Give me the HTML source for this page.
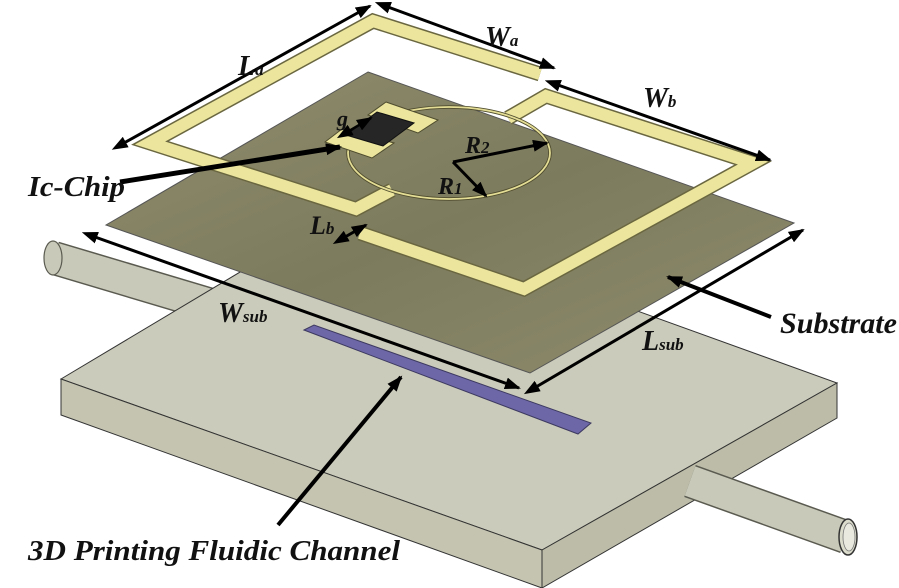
<!DOCTYPE html>
<html><head><meta charset="utf-8"><style>
html,body{margin:0;padding:0;background:#fff;}
svg{display:block;}
text{font-family:"Liberation Serif",serif;font-style:italic;font-weight:bold;fill:#111;}
</style></head><body>
<svg width="899" height="588" viewBox="0 0 899 588" xmlns="http://www.w3.org/2000/svg">
<defs>
<marker id="ah" markerWidth="16" markerHeight="12" refX="14" refY="6" orient="auto" markerUnits="userSpaceOnUse">
<path d="M0,0 L16,6 L0,12 z" fill="#000"/></marker>
<marker id="as" markerWidth="16" markerHeight="12" refX="2" refY="6" orient="auto-start-reverse" markerUnits="userSpaceOnUse">
<path d="M0,0 L16,6 L0,12 z" fill="#000"/></marker>
<linearGradient id="sub" x1="0" y1="0" x2="1" y2="1">
<stop offset="0" stop-color="#8f8d6c"/><stop offset="0.5" stop-color="#7d7b5e"/><stop offset="1" stop-color="#8e8c6c"/></linearGradient>
</defs>

<!-- left tube -->
<line x1="54" y1="258" x2="215" y2="306" stroke="#5a5a50" stroke-width="34"/>
<line x1="54" y1="258" x2="215" y2="306" stroke="#c8c9b8" stroke-width="31"/>
<ellipse cx="53" cy="258" rx="9" ry="17" fill="#c8c9b8" stroke="#5a5a50" stroke-width="1.2"/>

<!-- block -->
<polygon points="61,379 349,207 837,383 542,550" fill="#cbcbbb" stroke="#333" stroke-width="1"/>
<polygon points="61,379 542,550 542,588 61,415" fill="#c4c4b1" stroke="#333" stroke-width="1"/>
<polygon points="542,550 837,383 837,418 542,588" fill="#bcbca9" stroke="#333" stroke-width="1"/>

<!-- right tube -->
<line x1="690" y1="481" x2="846" y2="537" stroke="#5a5a50" stroke-width="34"/>
<line x1="690" y1="481" x2="846" y2="537" stroke="#c8c9b8" stroke-width="31"/>
<ellipse cx="848" cy="537" rx="9" ry="18" fill="#dcdccd" stroke="#333" stroke-width="1.5"/>
<ellipse cx="849" cy="537" rx="6" ry="14" fill="#e9e9e0" stroke="#777" stroke-width="0.8"/>

<!-- channel -->
<polygon points="304,330 314,325 591,423 578,434" fill="#6d67a8" stroke="#3d3a60" stroke-width="1"/>

<!-- substrate -->
<polygon points="368,72 794,223 530,373 106,225" fill="url(#sub)" stroke="#555" stroke-width="1"/>

<!-- traces -->
<g fill="none" stroke-linejoin="miter" stroke-linecap="butt">
<polyline points="540,74 373,21 150,143 356,209 392,190" stroke="#6a6740" stroke-width="15"/>
<polyline points="540,74 373,21 150,143 356,209 392,190" stroke="#ebe59d" stroke-width="12"/>
<polyline points="508,118 546,96 753,163 524,289 360,233" stroke="#6a6740" stroke-width="15"/>
<polyline points="508,118 546,96 753,163 524,289 360,233" stroke="#ebe59d" stroke-width="12"/>
</g>
<ellipse cx="449" cy="153" rx="101" ry="46" fill="none" stroke="#4f4c2e" stroke-width="3.5"/>
<ellipse cx="449" cy="153" rx="101" ry="46" fill="none" stroke="#e3dd95" stroke-width="1.8"/>
<!-- pads & chip -->
<polygon points="386,102 438,120 418,133 368,115" fill="#ebe59d" stroke="#4f4c2e" stroke-width="1"/>
<polygon points="325,142 342,129 394,143 372,158" fill="#ebe59d" stroke="#4f4c2e" stroke-width="1"/>
<polygon points="346,135 377,112 414,123 383,146" fill="#262626" stroke="#111" stroke-width="1"/>

<!-- arrows -->
<g stroke="#000" fill="none">
<line x1="124" y1="143" x2="370" y2="6" stroke-width="3" marker-start="url(#as)" marker-end="url(#ah)"/>
<line x1="388" y1="7" x2="554" y2="68" stroke-width="3" marker-start="url(#as)" marker-end="url(#ah)"/>
<line x1="558" y1="85" x2="770" y2="160" stroke-width="3" marker-start="url(#as)" marker-end="url(#ah)"/>
<line x1="349" y1="131" x2="371" y2="118" stroke-width="2.5" marker-start="url(#as)" marker-end="url(#ah)"/>
<line x1="120" y1="182" x2="340" y2="147" stroke-width="5" marker-end="url(#ah)"/>
<polyline points="453,162 547,143" stroke-width="3" marker-end="url(#ah)"/>
<polyline points="453,162 486,196" stroke-width="3" marker-end="url(#ah)"/>
<line x1="345" y1="237" x2="366" y2="225" stroke-width="3" marker-start="url(#as)" marker-end="url(#ah)"/>
<line x1="95" y1="237" x2="519" y2="388" stroke-width="3" marker-start="url(#as)" marker-end="url(#ah)"/>
<line x1="536" y1="387" x2="803" y2="230" stroke-width="3" marker-start="url(#as)" marker-end="url(#ah)"/>
<line x1="771" y1="317" x2="668" y2="277" stroke-width="4" marker-end="url(#ah)"/>
<line x1="278" y1="525" x2="401" y2="377" stroke-width="4" marker-end="url(#ah)"/>
</g>

<!-- labels -->
<text x="238" y="75" font-size="28">L<tspan font-size="17">a</tspan></text>
<text x="485" y="46" font-size="28">W<tspan font-size="17">a</tspan></text>
<text x="643" y="107" font-size="28">W<tspan font-size="17">b</tspan></text>
<text x="337" y="126" font-size="22">g</text>
<text x="465" y="153" font-size="24">R<tspan font-size="17">2</tspan></text>
<text x="438" y="194" font-size="24">R<tspan font-size="17">1</tspan></text>
<text x="28" y="196" font-size="28" textLength="97" lengthAdjust="spacingAndGlyphs">Ic-Chip</text>
<text x="310" y="234" font-size="26">L<tspan font-size="17">b</tspan></text>
<text x="218" y="322" font-size="28">W<tspan font-size="17">sub</tspan></text>
<text x="642" y="350" font-size="28">L<tspan font-size="17">sub</tspan></text>
<text x="780" y="333" font-size="30" textLength="117" lengthAdjust="spacingAndGlyphs">Substrate</text>
<text x="28" y="560" font-size="29" textLength="372" lengthAdjust="spacingAndGlyphs">3D Printing Fluidic Channel</text>
</svg>
</body></html>
